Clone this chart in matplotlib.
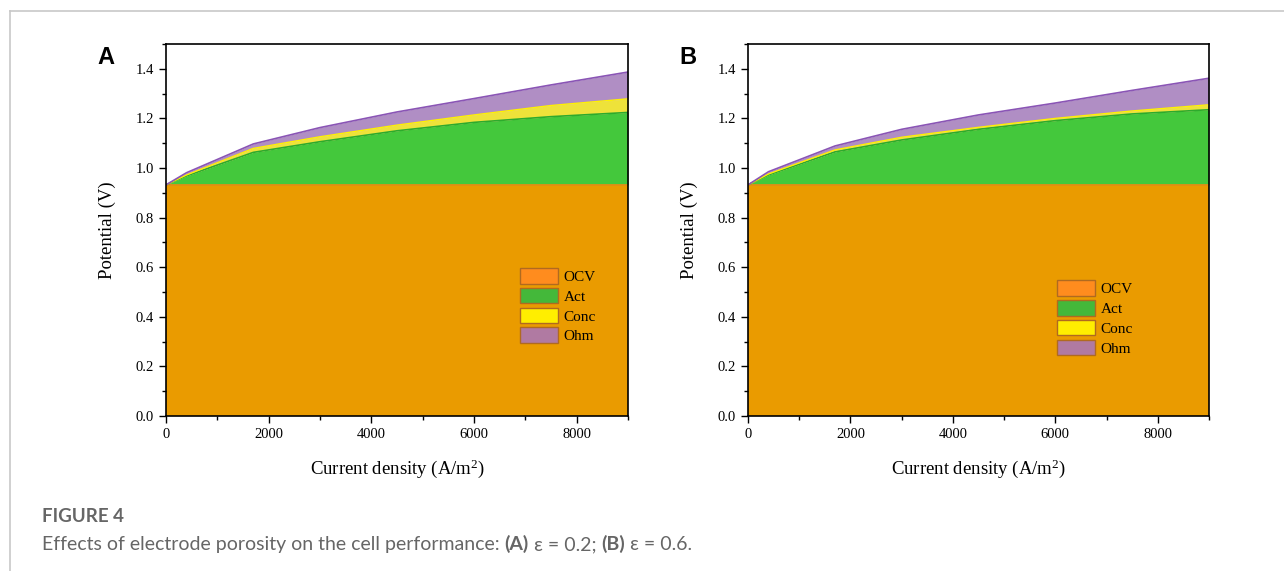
import matplotlib
matplotlib.use('Agg')
import matplotlib.pyplot as plt
from matplotlib.lines import Line2D
from matplotlib.patches import Patch
from matplotlib.ticker import MultipleLocator

# current density (A/m2) and stacked potential levels (V)
current = [0, 400, 1700, 3000, 4500, 6000, 7500, 9000]
ocv = 0.932

# panel A, porosity 0.2 (cumulative tops)
act_a = [ocv, 0.968, 1.063, 1.106, 1.150, 1.184, 1.207, 1.224]
conc_a = [ocv, 0.972, 1.079, 1.126, 1.173, 1.214, 1.252, 1.279]
ohm_a = [ocv, 0.981, 1.097, 1.163, 1.226, 1.280, 1.335, 1.387]

# panel B, porosity 0.6 (cumulative tops)
act_b = [ocv, 0.972, 1.065, 1.113, 1.156, 1.191, 1.218, 1.235]
conc_b = [ocv, 0.976, 1.073, 1.124, 1.164, 1.200, 1.230, 1.255]
ohm_b = [ocv, 0.985, 1.089, 1.156, 1.214, 1.262, 1.313, 1.362]

labels = ['OCV', 'Act', 'Conc', 'Ohm']
fill_colors = ['#EA9B00', '#44C83C', '#EEE23A', '#B08EC4']
line_colors = ['#F08A10', '#2DAA2D', '#FFF200', '#8A55B5']
legend_faces = ['#FF8C1E', '#44B83A', '#FFEE00', '#B07AA2']

plt.rcParams['mathtext.default'] = 'regular'

fig = plt.figure(figsize=(12.84, 5.71), dpi=100)

# thin page frame
fig.add_artist(Line2D([9.5 / 1284, 1], [1 - 10.5 / 571, 1 - 10.5 / 571],
                      color='#c8c8c8', lw=1.2, transform=fig.transFigure))
fig.add_artist(Line2D([9.5 / 1284, 9.5 / 1284], [0, 1 - 10.5 / 571],
                      color='#c8c8c8', lw=1.2, transform=fig.transFigure))


def draw_panel(ax, act, conc, ohm, letter, leg_xy):
    base = [ocv] * len(current)
    ax.fill_between(current, 0, base, color=fill_colors[0], lw=0)
    ax.fill_between(current, base, act, color=fill_colors[1], lw=0)
    ax.fill_between(current, act, conc, color=fill_colors[2], lw=0)
    ax.fill_between(current, conc, ohm, color=fill_colors[3], lw=0)
    ax.plot(current, base, color=line_colors[0], lw=1.2)
    ax.plot(current, act, color=line_colors[1], lw=1.2)
    ax.plot(current, conc, color=line_colors[2], lw=1.0)
    ax.plot(current, ohm, color=line_colors[3], lw=1.2)

    ax.set_xlim(0, 9000)
    ax.set_ylim(0, 1.5)
    ax.xaxis.set_major_locator(MultipleLocator(2000))
    ax.xaxis.set_minor_locator(MultipleLocator(1000))
    ax.yaxis.set_minor_locator(MultipleLocator(0.1))
    ax.set_yticks([0, 0.2, 0.4, 0.6, 0.8, 1.0, 1.2, 1.4])
    ax.set_yticklabels(['0.0', '0.2', '0.4', '0.6', '0.8', '1.0', '1.2', '1.4'])
    ax.tick_params(which='both', direction='out', top=False, right=False,
                   width=1.0, labelsize=10.5, labelfontfamily='Liberation Serif')
    ax.tick_params(which='major', length=5)
    ax.tick_params(which='minor', length=3)
    for s in ax.spines.values():
        s.set_linewidth(1.2)
        s.set_zorder(5)

    ax.set_xlabel('Current density (A/m$^2$)', family='Liberation Serif', fontsize=13.5, labelpad=12)
    ax.set_ylabel('Potential (V)', family='Liberation Serif', fontsize=13.5, labelpad=14)

    handles = [Patch(facecolor=legend_faces[i], edgecolor='#B06A20', lw=1.0, label=labels[i])
               for i in range(4)]
    ax.legend(handles=handles, loc='upper left', bbox_to_anchor=leg_xy, frameon=False,
              borderaxespad=0, borderpad=0, handlelength=2.5, handleheight=1.2,
              handletextpad=0.35, labelspacing=0.25,
              prop={'family': 'Liberation Serif', 'size': 11})

    ax.text(-0.13, 0.965, letter, transform=ax.transAxes, fontsize=17, fontweight='bold',
            family='Liberation Sans', ha='center', va='center')


ax_a = fig.add_axes([166 / 1284, 155 / 571, 462 / 1284, 372 / 571])
ax_b = fig.add_axes([748 / 1284, 155 / 571, 461 / 1284, 372 / 571])
draw_panel(ax_a, act_a, conc_a, ohm_a, 'A', (0.766, 0.398))
draw_panel(ax_b, act_b, conc_b, ohm_b, 'B', (0.670, 0.365))

# caption
cap = ['Lato', 'DejaVu Sans']
fig.text(42 / 1284, 1 - 516 / 571, 'FIGURE 4', fontsize=13.5, fontweight='bold',
         color='#666666', family=cap, va='center')
t = fig.text(42 / 1284, 1 - 550 / 571, 'Effects of electrode porosity on the cell performance: ',
             fontsize=14, color='#666666', family=cap, va='baseline')
parts = [('(A)', 'bold'), (' \u03b5 = 0.2; ', 'normal'), ('(B)', 'bold'), (' \u03b5 = 0.6.', 'normal')]
for txt, w in parts:
    t = fig.axes[0].annotate(txt, xy=(1, 0), xycoords=t, va='bottom', ha='left',
                             fontsize=14, fontweight=w, color='#666666', family=cap,
                             annotation_clip=False)

fig.savefig('out.png', dpi=100)
